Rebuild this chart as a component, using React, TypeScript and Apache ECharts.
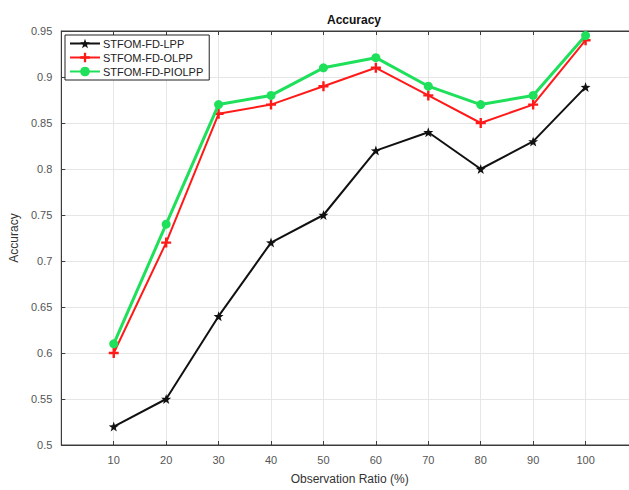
import React, { useEffect, useRef } from "react";
import * as echarts from "echarts";

const ratios = [10, 20, 30, 40, 50, 60, 70, 80, 90, 100];
const lppValues = [0.52, 0.55, 0.64, 0.72, 0.75, 0.82, 0.84, 0.8, 0.83, 0.889];
const olppValues = [0.6, 0.72, 0.86, 0.87, 0.89, 0.91, 0.88, 0.85, 0.87, 0.94];
const piolppValues = [0.61, 0.74, 0.87, 0.88, 0.91, 0.921, 0.89, 0.87, 0.88, 0.945];
const seriesNames = ["STFOM-FD-LPP", "STFOM-FD-OLPP", "STFOM-FD-PIOLPP"];

const STAR =
  "path://M0,-10 L2.35,-3.24 9.51,-3.09 3.8,1.24 5.88,8.09 0,4 -5.88,8.09 -3.8,1.24 -9.51,-3.09 -2.35,-3.24Z";
const PLUS = "path://M-1.2,-5 H1.2 V-1.2 H5 V1.2 H1.2 V5 H-1.2 V1.2 H-5 V-1.2 H-1.2 Z";

const FONT = "Liberation Sans, Arial, sans-serif";

export default function App() {
  const ref = useRef<HTMLDivElement>(null);
  useEffect(() => {
    if (!ref.current) return;
    const chart = echarts.init(ref.current, null, { renderer: "svg" });
    const pair = (vals: number[]) => ratios.map((r, i) => [r, vals[i]]);
    chart.setOption({
      animation: false,
      backgroundColor: "#ffffff",
      textStyle: { fontFamily: FONT },
      title: {
        text: "Accuracy",
        left: 349,
        top: 9,
        textAlign: "center",
        textStyle: { fontSize: 12, fontWeight: "bold", color: "#111", fontFamily: FONT },
      },
      grid: {
        left: 60,
        right: 12,
        top: 31,
        bottom: 42,
        show: true,
        borderColor: "#3c3c3c",
        borderWidth: 1,
        backgroundColor: "#ffffff",
      },
      legend: {
        orient: "vertical",
        left: 65,
        top: 35,
        data: seriesNames,
        backgroundColor: "#ffffff",
        borderColor: "#222",
        borderWidth: 1,
        borderRadius: 0,
        padding: [3, 6, 3, 4],
        itemGap: 3,
        itemWidth: 30,
        itemHeight: 12,
        textStyle: { fontSize: 11, color: "#222", fontFamily: FONT, padding: [0, 0, 0, -2] },
      },
      xAxis: [
        {
          type: "value",
          min: 0,
          max: 110,
          interval: 10,
          name: "Observation Ratio (%)",
          nameLocation: "middle",
          nameGap: 28,
          nameTextStyle: { fontSize: 12, color: "#333", fontFamily: FONT },
          axisLine: { show: true, lineStyle: { color: "#3c3c3c", width: 1 } },
          axisTick: { show: true, inside: true, length: 4, lineStyle: { color: "#3c3c3c" } },
          axisLabel: {
            color: "#555",
            fontSize: 11,
            margin: 9,
            fontFamily: FONT,
            formatter: (v: number) => (v === 0 || v === 110 ? "" : String(v)),
          },
          splitLine: { show: true, lineStyle: { color: "#e6e6e6", width: 1 } },
        },
        {
          type: "value",
          position: "top",
          min: 0,
          max: 110,
          interval: 10,
          axisLine: { show: true, lineStyle: { color: "#3c3c3c", width: 1 } },
          axisTick: { show: true, inside: true, length: 4, lineStyle: { color: "#3c3c3c" } },
          axisLabel: { show: false },
          splitLine: { show: false },
        },
      ],
      yAxis: {
        type: "value",
        min: 0.5,
        max: 0.95,
        interval: 0.05,
        name: "Accuracy",
        nameLocation: "middle",
        nameGap: 37,
        nameTextStyle: { fontSize: 12, color: "#333", fontFamily: FONT },
        axisLine: { show: true, lineStyle: { color: "#3c3c3c", width: 1 } },
        axisTick: { show: true, inside: true, length: 4, lineStyle: { color: "#3c3c3c" } },
        axisLabel: {
          color: "#555",
          fontSize: 11,
          margin: 9,
          fontFamily: FONT,
          formatter: (v: number) => String(Math.round(v * 100) / 100),
        },
        splitLine: { show: true, lineStyle: { color: "#e6e6e6", width: 1 } },
      },
      series: [
        {
          name: seriesNames[0],
          type: "line",
          data: pair(lppValues),
          symbol: STAR,
          symbolSize: 10,
          lineStyle: { color: "#111", width: 2 },
          itemStyle: { color: "#111" },
          z: 3,
        },
        {
          name: seriesNames[1],
          type: "line",
          data: pair(olppValues),
          symbol: PLUS,
          symbolSize: 10,
          lineStyle: { color: "#ff1a1a", width: 2 },
          itemStyle: { color: "#ff1a1a" },
          z: 4,
        },
        {
          name: seriesNames[2],
          type: "line",
          data: pair(piolppValues),
          symbol: "circle",
          symbolSize: 9,
          lineStyle: { color: "#1ee05a", width: 3 },
          itemStyle: { color: "#1ee05a" },
          z: 5,
        },
      ],
    });
    return () => chart.dispose();
  }, []);
  return (
    <div
      style={{
        position: "absolute",
        left: 0,
        top: 0,
        width: 629,
        height: 490,
        overflow: "hidden",
        background: "#ffffff",
      }}
    >
      <div ref={ref} style={{ width: 650, height: 490 }} />
    </div>
  );
}
